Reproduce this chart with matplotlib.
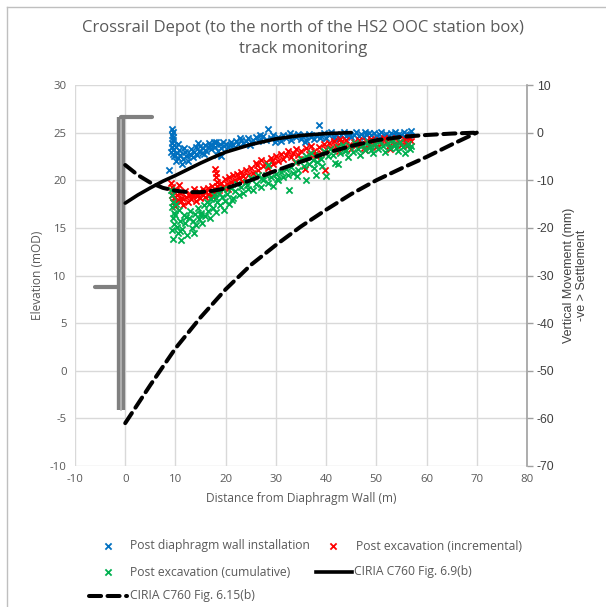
""" Crossrail Depot track monitoring - elevation / vertical movement vs distance from wall """

import matplotlib
matplotlib.use("Agg")
import matplotlib.pyplot as plt
from matplotlib.lines import Line2D


#####################################################################
#                          Data
#####################################################################

TITLE = "Crossrail Depot (to the north of the HS2 OOC station box)\ntrack monitoring"

# diaphragm wall sketch (left axis, mOD)
WALL_X = [-0.8, -0.8]
WALL_Y = [-4.1, 26.6]
WALL_CAP_X = [-0.8, 5.3]
WALL_CAP_Y = [26.6, 26.6]
STUB_X = [-6.0, -1.2]
STUB_Y = [8.8, 8.8]

# CIRIA C760 Fig. 6.9(b) (right axis, mm)
fig69_x = [0, 2.5, 5, 7.5, 10, 12.5, 15, 17.5, 20, 25, 30, 35, 40, 45]
fig69_y = [-14.8, -13.1, -11.6, -10.2, -9.0, -7.7, -6.4, -5.2, -4.1, -2.5, -1.3, -0.6, -0.2, 0.0]

# CIRIA C760 Fig. 6.15(b) - two profiles
fig615a_x = [0, 2.5, 5, 7.5, 10, 12.5, 15, 17.5, 20, 25, 30, 35, 40, 45, 50, 55, 60, 65, 70]
fig615a_y = [-6.8, -8.9, -10.5, -11.6, -12.2, -12.5, -12.5, -12.2, -11.7, -10.0, -8.0, -6.1,
             -4.3, -2.8, -1.6, -0.9, -0.5, -0.2, 0.0]
fig615b_x = [0, 5, 10, 15, 20, 25, 30, 35, 40, 45, 50, 55, 60, 65, 70]
fig615b_y = [-61.0, -53.0, -45.3, -38.8, -32.9, -27.8, -23.6, -19.7, -16.2, -12.9, -10.0,
             -7.5, -5.1, -2.5, 0.0]

# Post diaphragm wall installation
wall_inst_x = [9.3, 9.5, 9.4, 9.6, 9.5, 9.3, 9.7, 9.4, 9.6, 9.2, 9.5, 9.8, 8.8, 10.1, 10.3, 10.5,
               10.2, 10.8, 11.0, 11.3, 11.6, 11.9, 12.2, 12.5, 12.8, 13.1, 13.4, 13.7, 14.0, 14.3,
               14.6, 14.9, 15.2, 15.5, 15.8, 16.1, 16.4, 16.7, 17.0, 17.3, 17.6, 17.9, 18.2, 18.5,
               18.8, 19.0, 19.1, 19.4, 19.7, 20.0, 20.5, 21.0, 21.5, 22.0, 22.5, 23.0, 23.5, 24.0,
               24.5, 25.0, 25.5, 26.0, 26.5, 27.0, 27.5, 28.0, 28.5, 29.0, 29.5, 30.0, 30.5, 31.0,
               31.5, 32.0, 32.5, 33.0, 33.5, 34.0, 34.5, 35.0, 35.5, 36.0, 36.5, 37.0, 37.5, 38.0,
               38.5, 39.0, 39.5, 40.0, 40.5, 41.0, 41.5, 42.0, 42.5, 43.0, 43.5, 44.0, 44.5, 45.0,
               45.5, 46.0, 46.5, 47.0, 47.5, 48.0, 48.5, 49.0, 49.5, 50.0, 50.5, 51.0, 51.5, 52.0,
               52.5, 53.0, 53.5, 54.0, 54.5, 55.0, 55.5, 56.0, 56.5, 57.0,
               10.6, 11.8, 13.0, 14.4, 15.7, 16.9, 18.0, 20.8, 22.8, 24.8, 26.8, 29.8, 32.8, 35.8,
               38.8, 41.8, 44.8, 47.8, 50.8, 53.8, 55.8]
wall_inst_y = [0.8, 0.2, -0.5, -1.0, -1.6, -2.2, -2.6, -3.1, -3.6, -4.0, -4.5, -5.0, -7.9, -3.0, -4.2,
               -5.4, -6.0, -3.6, -4.8, -6.5, -5.6, -4.0, -5.0, -6.0, -4.4, -3.4, -5.2, -4.0, -3.0,
               -4.6, -3.8, -2.8, -4.2, -3.3, -2.5, -3.8, -3.0, -2.2, -3.4, -2.7, -1.9, -3.0, -4.6,
               -3.8, -2.4, -5.0, -3.2, -2.0, -2.8, -2.3, -3.0, -2.0, -2.6, -1.8, -2.3, -1.5, -2.2,
               -1.7, -1.2, -2.0, -1.5, -1.0, -1.8, -1.3, -0.8, -1.6, 0.7, -1.1, -0.6, -1.4, -0.9,
               -1.7, -0.5, -1.2, -0.7, -1.5, -0.4, -1.0, -0.3, -1.3, -0.6, -1.6, -0.2, -0.9, -1.4,
               -0.4, 1.6, -0.8, -0.1, -1.1, -0.5, 0.1, -0.9, -0.3, -1.2, -0.6, 0.2, -0.8, -0.2,
               -1.0, -0.4, 0.1, -0.7, -0.2, -0.9, -0.3, 0.0, -0.6, -0.1, -0.8, -0.3, 0.1, -0.5,
               -0.2, -0.7, -0.1, -0.4, -0.8, -0.2, -0.5, 0.2, -0.3, -0.6, 0.3,
               -2.4, -3.2, -4.8, -2.2, -4.4, -2.6, -2.0, -2.7, -1.2, -2.5, -0.6, -2.0, -0.1, -1.9,
               -1.2, -1.4, -0.6, 0.2, -1.2, 0.1, -0.9]

# Post excavation (incremental)
exc_inc_x = [9.2, 9.4, 9.6, 9.3, 9.7, 9.5, 9.9, 10.1, 10.3, 10.5, 10.8, 11.0, 11.3, 11.6, 11.9, 12.2,
             12.5, 12.8, 13.1, 13.4, 13.7, 14.0, 14.3, 14.6, 14.9, 15.2, 15.5, 15.8, 16.1, 16.4,
             16.7, 17.0, 17.3, 17.6, 17.9, 18.0, 18.1, 18.2, 18.3, 18.6, 19.0, 19.4, 19.8, 20.2,
             20.6, 21.0, 21.4, 21.8, 22.2, 22.6, 23.0, 23.5, 24.0, 24.5, 25.0, 25.5, 26.0, 26.5,
             27.0, 27.5, 28.0, 28.5, 29.0, 29.5, 30.0, 30.5, 31.0, 31.5, 32.0, 32.5, 33.0, 33.5,
             34.0, 34.5, 35.0, 35.5, 35.7, 36.0, 36.5, 37.0, 37.5, 38.0, 38.5, 39.0, 39.5, 39.8,
             40.0, 40.5, 41.0, 41.5, 42.0, 42.5, 43.0, 43.5, 44.0, 44.5, 45.0, 45.5, 46.0, 46.5,
             47.0, 47.5, 48.0, 48.5, 49.0, 49.5, 50.0, 50.5, 51.0, 51.5, 52.0, 52.5, 53.0, 53.5,
             54.0, 54.5, 55.0, 55.5, 56.0, 56.5, 57.0,
             10.0, 11.2, 12.7, 14.2, 15.7, 17.2, 20.4, 23.3, 26.3, 29.3, 33.8, 37.8, 42.8, 47.8,
             52.8, 56.2]
exc_inc_y = [-10.6, -11.5, -12.3, -13.0, -13.8, -14.6, -15.5, -12.0, -13.2, -14.2, -11.0, -12.7,
             -13.8, -15.2, -12.2, -13.5, -14.6, -12.8, -14.0, -13.0, -11.8, -14.3, -13.4, -12.4,
             -13.8, -12.8, -11.9, -13.5, -12.5, -11.6, -13.0, -12.2, -11.2, -12.6, -7.6, -8.5,
             -9.4, -10.3, -11.2, -12.0, -10.6, -11.5, -9.8, -10.8, -9.4, -10.4, -8.9, -10.0, -8.6,
             -9.6, -8.2, -9.2, -7.8, -8.8, -7.4, -8.4, -6.4, -7.9, -5.8, -7.0, -6.2, -7.4, -5.4,
             -6.6, -5.0, -6.0, -4.4, -5.6, -4.8, -3.8, -5.2, -4.2, -3.4, -4.8, -3.9, -5.5, -7.6,
             -3.2, -4.4, -2.8, -3.8, -5.0, -3.0, -4.2, -2.4, -7.9, -3.5, -2.2, -3.2, -1.8, -2.8,
             -3.8, -2.0, -3.0, -1.6, -2.6, -3.4, -1.9, -2.7, -1.5, -2.4, -3.2, -1.7, -2.5, -1.3,
             -2.2, -3.0, -1.6, -2.4, -1.2, -2.0, -2.8, -1.5, -2.3, -1.1, -1.9, -2.6, -1.4, -2.1,
             -1.0, -1.8,
             -13.6, -14.4, -13.2, -12.9, -12.2, -13.4, -11.8, -10.2, -6.9, -6.0, -6.1, -4.4, -1.4,
             -3.6, -3.4, -2.9]

# Post excavation (cumulative)
exc_cum_x = [9.2, 9.4, 9.6, 9.3, 9.7, 9.5, 9.8, 9.4, 9.6, 10.0, 10.2, 10.4, 10.6, 10.8, 11.0, 11.2,
             11.4, 11.7, 12.0, 12.3, 12.6, 12.9, 13.2, 13.5, 13.8, 14.1, 14.4, 14.7, 15.0, 15.3,
             15.6, 15.9, 16.2, 16.5, 16.8, 17.1, 17.4, 17.7, 18.0, 18.3, 18.6, 18.9, 19.2, 19.5,
             19.8, 20.2, 20.6, 21.0, 21.4, 21.8, 22.2, 22.6, 23.0, 23.5, 24.0, 24.5, 25.0, 25.5,
             26.0, 26.5, 27.0, 27.5, 28.0, 28.5, 28.5, 29.0, 29.5, 30.0, 30.5, 31.0, 31.5, 32.0,
             32.5, 32.6, 33.0, 33.5, 34.0, 34.5, 35.0, 35.5, 36.0, 36.0, 36.5, 37.0, 37.3, 37.6,
             37.9, 38.2, 38.6, 39.0, 39.5, 40.0, 40.3, 40.8, 41.3, 41.8, 42.3, 42.3, 42.8, 43.3,
             43.8, 44.3, 44.8, 45.3, 45.8, 46.3, 46.8, 47.3, 47.8, 48.3, 48.8, 49.3, 49.8, 50.3,
             50.8, 51.3, 51.8, 52.3, 52.8, 53.3, 53.8, 54.3, 54.8, 55.3, 55.8, 56.3, 56.8, 57.0,
             10.9, 12.1, 13.6, 15.1, 16.6, 18.1, 19.7, 21.2, 24.2, 27.2, 30.2, 34.2, 39.2, 44.0,
             49.0, 54.0]
exc_cum_y = [-12.0, -13.2, -14.5, -15.6, -16.8, -18.0, -19.2, -20.4, -22.4, -17.4, -15.0, -19.8,
             -21.0, -16.2, -18.6, -22.6, -20.2, -17.4, -19.0, -21.4, -18.0, -16.4, -20.0, -18.6,
             -17.0, -19.4, -15.8, -18.2, -16.8, -19.0, -15.2, -17.6, -14.6, -16.4, -18.0, -14.0,
             -15.8, -13.2, -16.6, -14.6, -12.6, -15.2, -13.6, -11.8, -14.4, -12.8, -15.0, -11.6,
             -13.8, -12.2, -10.8, -13.0, -11.4, -12.6, -10.4, -11.8, -9.6, -12.0, -10.8, -9.0,
             -11.4, -10.0, -8.8, -10.6, -6.9, -9.4, -11.2, -8.6, -10.0, -8.2, -9.4, -7.6, -9.0,
             -12.0, -7.2, -8.4, -6.2, -7.8, -5.6, -7.0, -5.0, -10.0, -6.6, -4.2, -5.8, -7.4, -9.0,
             -6.2, -4.6, -5.6, -3.8, -9.2, -5.0, -3.4, -4.6, -6.4, -3.0, -6.5, -4.2, -2.6, -3.8,
             -5.2, -2.8, -4.0, -2.2, -3.4, -4.6, -2.6, -3.6, -2.0, -3.0, -4.2, -2.4, -3.4, -1.8,
             -2.8, -4.0, -2.2, -3.2, -1.6, -2.6, -3.8, -2.0, -3.0, -4.2, -2.4, -3.4, -2.8,
             -20.6, -17.8, -21.0, -17.4, -15.0, -13.8, -16.2, -14.2, -11.0, -9.6, -9.8, -9.2,
             -7.0, -3.6, -3.6, -3.2]

X_TICKS = list(range(-10, 81, 10))
ELEV_TICKS = list(range(-10, 31, 5))
MOVE_TICKS = list(range(-70, 11, 10))

BLUE = '#0070C0'
RED = '#FF0000'
GREEN = '#00B050'
GREY_TXT = '#595959'
GRID = '#d9d9d9'
FONT = 'Open Sans'
FONT_R = 'Liberation Sans'


#####################################################################
#                          Figure
#####################################################################

W, H = 606, 607
fig = plt.figure(figsize=(W / 100, H / 100), dpi=100)

ax = fig.add_axes([75 / W, 1 - 466 / H, (527 - 75) / W, (466 - 85) / H])
ax.set_xlim(-10, 80)
ax.set_ylim(-10, 30)
ax.set_xticks(X_TICKS)
ax.set_yticks(ELEV_TICKS)
ax.set_xticklabels([str(v) for v in X_TICKS], fontfamily=FONT, fontsize=8.2, color=GREY_TXT)
ax.set_yticklabels([str(v) for v in ELEV_TICKS], fontfamily=FONT, fontsize=8.2, color=GREY_TXT)
ax.tick_params(length=0, pad=6)
ax.grid(True, color=GRID, lw=1.0)
ax.set_axisbelow(True)
for s in ax.spines.values():
    s.set_visible(False)
ax.set_xlabel("Distance from Diaphragm Wall (m)", fontfamily=FONT, fontsize=8.6, color=GREY_TXT, labelpad=5)
ax.set_ylabel("Elevation (mOD)", fontfamily=FONT, fontsize=8.6, color=GREY_TXT, labelpad=4)

# the wall sketch
ax.plot(WALL_X, WALL_Y, color='#808080', lw=6, solid_capstyle='butt', zorder=3)
ax.plot(WALL_X, [WALL_Y[0], WALL_Y[1] - 0.3], color='#b8b8b8', lw=1.2, zorder=4)
ax.plot(WALL_CAP_X, WALL_CAP_Y, color='#808080', lw=3, solid_capstyle='round', zorder=3)
ax.plot(STUB_X, STUB_Y, color='#808080', lw=3, solid_capstyle='round', zorder=3)

ax2 = ax.twinx()
ax2.set_ylim(-70, 10)
ax2.set_yticks(MOVE_TICKS)
ax2.set_yticklabels([str(v) for v in MOVE_TICKS], fontfamily=FONT_R, fontsize=8.8, color='#404040')
ax2.tick_params(axis='y', direction='out', length=4, width=1, color='#a0a0a0', pad=3)
for k in ('left', 'top', 'bottom'):
    ax2.spines[k].set_visible(False)
ax2.spines['right'].set_color('#a0a0a0')
ax2.spines['right'].set_linewidth(1.2)
ax2.set_ylabel("Vertical Movement (mm)\n-ve > Settlement", fontfamily=FONT_R, fontsize=9,
               color='#404040', labelpad=6)

mk = dict(marker='x', s=20, linewidths=1.3, zorder=3)
ax2.scatter(wall_inst_x, wall_inst_y, color=BLUE, **mk)
ax2.scatter(exc_inc_x, exc_inc_y, color=RED, **mk)
ax2.scatter(exc_cum_x, exc_cum_y, color=GREEN, **mk)

ax2.plot(fig69_x, fig69_y, color='black', lw=2.6, solid_capstyle='round', zorder=5)
dash = dict(color='black', lw=2.9, dashes=(3.0, 1.6), dash_capstyle='round', zorder=5)
ax2.plot(fig615a_x, fig615a_y, **dash)
ax2.plot(fig615b_x, fig615b_y, **dash)

fig.suptitle(TITLE, x=0.5, y=1 - 20 / H, va='top', fontfamily=FONT, fontsize=12,
             color=GREY_TXT, linespacing=1.45)

# legend laid out below the plot
lg = fig.add_axes([0, 0, 1, 1])
lg.set_xlim(0, W)
lg.set_ylim(H, 0)
lg.axis('off')
lg.patch.set_alpha(0)
ROW = [546, 572, 596]
ltxt = dict(fontfamily=FONT, fontsize=8.7, color=GREY_TXT, va='center', ha='left')
lg.scatter([108], [ROW[0]], color=BLUE, **mk)
lg.text(130, ROW[0], "Post diaphragm wall installation", **ltxt)
lg.scatter([333], [ROW[0]], color=RED, **mk)
lg.text(356, ROW[0], "Post excavation (incremental)", **ltxt)
lg.scatter([108], [ROW[1]], color=GREEN, **mk)
lg.text(130, ROW[1], "Post excavation (cumulative)", **ltxt)
lg.add_line(Line2D([316, 352], [ROW[1], ROW[1]], color='black', lw=2.6))
lg.text(354, ROW[1], "CIRIA C760 Fig. 6.9(b)", **ltxt)
lg.add_line(Line2D([89, 127], [ROW[2], ROW[2]], **dash))
lg.text(130, ROW[2], "CIRIA C760 Fig. 6.15(b)", **ltxt)

# chart frame
lg.add_line(Line2D([7, 7], [7, H], color='#bfbfbf', lw=1))
lg.add_line(Line2D([7, W], [7, 7], color='#bfbfbf', lw=1))

fig.savefig("out.png", dpi=100)
